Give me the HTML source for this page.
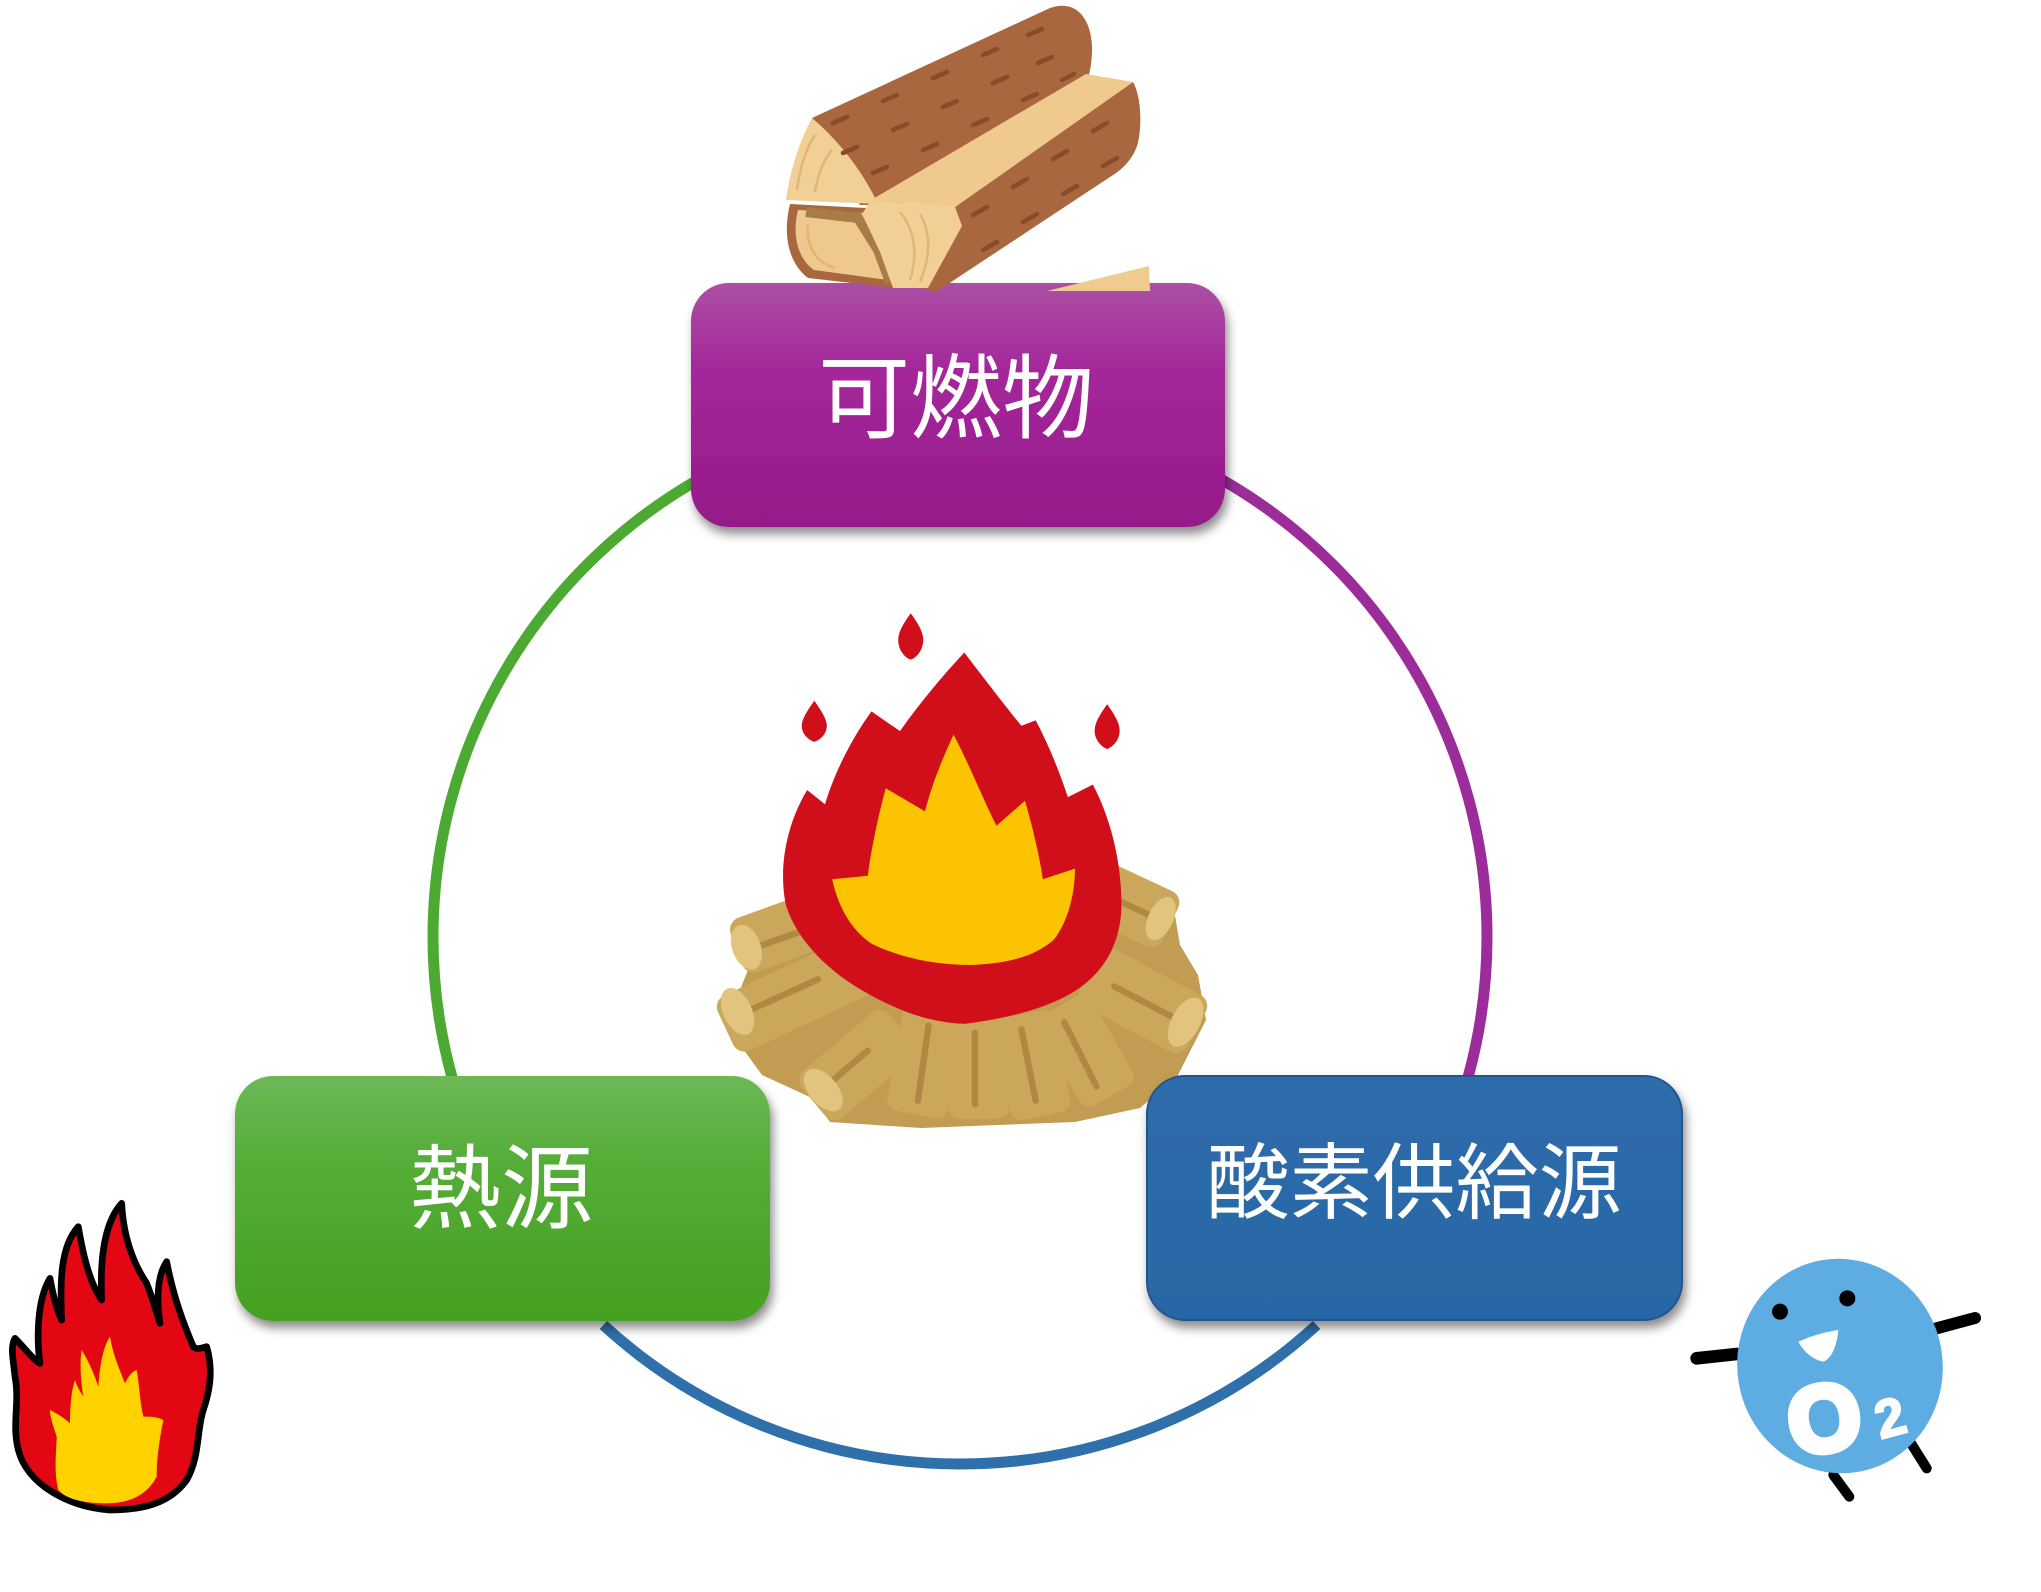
<!DOCTYPE html>
<html>
<head>
<meta charset="utf-8">
<style>
html,body{margin:0;padding:0;background:#fff;}
body{width:2041px;height:1592px;overflow:hidden;position:relative;}
svg{position:absolute;left:0;top:0;}
text{font-family:"Liberation Sans","Noto Sans CJK JP",sans-serif;}
</style>
</head>
<body>
<svg width="2041" height="1592" viewBox="0 0 2041 1592" xmlns="http://www.w3.org/2000/svg">
<defs>
  <linearGradient id="gP" x1="0" y1="0" x2="0" y2="1">
    <stop offset="0" stop-color="#ab50a3"/>
    <stop offset="0.35" stop-color="#a4289b"/>
    <stop offset="1" stop-color="#96198a"/>
  </linearGradient>
  <linearGradient id="gG" x1="0" y1="0" x2="0" y2="1">
    <stop offset="0" stop-color="#6db957"/>
    <stop offset="0.35" stop-color="#55ad38"/>
    <stop offset="1" stop-color="#45a021"/>
  </linearGradient>
  <linearGradient id="gB" x1="0" y1="0" x2="0" y2="1">
    <stop offset="0" stop-color="#2f6dac"/>
    <stop offset="1" stop-color="#2866a5"/>
  </linearGradient>
  <filter id="sh" x="-10%" y="-10%" width="120%" height="130%">
    <feDropShadow dx="3" dy="7" stdDeviation="5" flood-color="#000" flood-opacity="0.45"/>
  </filter>
</defs>

<!-- circle arcs -->
<g fill="none" stroke-width="11">
  <path d="M960,410 A527,527 0 0 0 503.6,1200.5" stroke="#4caa33"/>
  <path d="M603.4,1325 A527,527 0 0 0 1316.6,1325" stroke="#2f70ab"/>
  <path d="M1416.4,1200.5 A527,527 0 0 0 960,410" stroke="#9d2c9b"/>
</g>

<!-- campfire log mound base -->
<path fill="#c29c52" d="M740,925 L790,900 L860,905 L1100,885 L1135,878 L1172,898 L1180,945 L1198,975 L1206,1020 L1178,1075 L1140,1108 L1075,1122 L921,1128 L830,1122 L812,1098 L762,1075 L735,1038 L740,990 L752,960 Z"/>

<!-- campfire -->
<g transform="translate(700,590) scale(0.357143)">
  <g fill="#cba75c">
    <rect x="90" y="860" width="380" height="160" rx="35" transform="rotate(-20 280 940)"/>
    <rect x="50" y="1045" width="460" height="170" rx="35" transform="rotate(-25 280 1130)"/>
    <rect x="280" y="1245" width="320" height="170" rx="35" transform="rotate(-40 440 1330)"/>
    <rect x="545" y="1170" width="170" height="300" rx="30" transform="rotate(10 630 1320)"/>
    <rect x="695" y="1200" width="170" height="280" rx="30"/>
    <rect x="845" y="1185" width="170" height="290" rx="30" transform="rotate(-12 930 1330)"/>
    <rect x="995" y="1145" width="170" height="290" rx="30" transform="rotate(-30 1080 1290)"/>
    <rect x="1070" y="1060" width="340" height="180" rx="35" transform="rotate(28 1240 1150)"/>
    <rect x="1070" y="795" width="260" height="170" rx="35" transform="rotate(25 1200 880)"/>
  </g>
  <g stroke="#a9813c" stroke-width="18" stroke-linecap="round" fill="none" opacity="0.8">
    <path d="M130,1010 L300,950"/>
    <path d="M110,1190 L330,1090"/>
    <path d="M340,1400 L470,1290"/>
    <path d="M610,1430 L640,1220"/>
    <path d="M770,1440 L770,1240"/>
    <path d="M940,1430 L900,1230"/>
    <path d="M1110,1390 L1020,1210"/>
    <path d="M1350,1210 L1160,1110"/>
    <path d="M1280,920 L1150,860"/>
  </g>
  <g fill="#e3c47e">
    <ellipse cx="130" cy="1000" rx="40" ry="65" transform="rotate(-20 130 1000)"/>
    <ellipse cx="105" cy="1180" rx="40" ry="70" transform="rotate(-25 105 1180)"/>
    <ellipse cx="345" cy="1400" rx="40" ry="70" transform="rotate(-40 345 1400)"/>
    <ellipse cx="1360" cy="1210" rx="40" ry="75" transform="rotate(28 1360 1210)"/>
    <ellipse cx="1290" cy="920" rx="35" ry="65" transform="rotate(25 1290 920)"/>
  </g>
  <g fill="#d10f1b">
    <path d="M590,65 C615,100 625,120 625,140 C625,170 605,190 590,195 C575,190 555,170 555,140 C555,120 565,100 590,65 Z"/>
    <path d="M320,310 C345,345 355,365 355,380 C355,405 335,420 320,425 C305,420 285,405 285,380 C285,365 295,345 320,310 Z"/>
    <path d="M1140,320 C1165,355 1175,375 1175,395 C1175,420 1155,440 1140,445 C1125,440 1105,420 1105,395 C1105,375 1115,355 1140,320 Z"/>
    <path d="M740,175 C790,240 850,320 900,380 L940,365 C980,440 1010,520 1030,580 L1100,545 C1150,640 1180,760 1180,880 C1180,1000 1120,1090 1020,1140 C940,1180 850,1200 740,1215 C640,1210 560,1180 470,1130 C360,1070 270,980 240,880 C220,780 240,660 300,560 L350,600 C380,500 430,410 480,340 L560,395 C620,310 680,240 740,175 Z"/>
  </g>
  <path fill="#fcc400" d="M710,405 C750,480 790,580 830,660 L910,590 C930,660 950,740 960,810 L1050,780 C1050,850 1030,930 990,980 C930,1030 860,1045 760,1050 C660,1050 560,1030 480,990 C420,950 385,880 370,810 L470,800 C480,720 500,630 520,555 L630,620 C650,540 680,470 710,405 Z"/>
</g>

<!-- boxes -->
<g filter="url(#sh)">
  <rect x="691" y="283" width="534" height="244" rx="38" fill="url(#gP)"/>
  <rect x="235" y="1076" width="535" height="245" rx="38" fill="url(#gG)"/>
  <rect x="1147" y="1076" width="535" height="244" rx="38" fill="url(#gB)" stroke="#22558d" stroke-width="2"/>
</g>

<text x="956" y="431" font-size="92" fill="#fff" text-anchor="middle">可燃物</text>
<text x="501" y="1221" font-size="92" fill="#fff" text-anchor="middle">熱源</text>
<text x="1414" y="1212" font-size="83" fill="#fff" text-anchor="middle">酸素供給源</text>

<!-- top logs (real coordinates) -->
<g>
  <path fill="#a9673f" d="M812,118 L1050,8 C1078,-2 1093,22 1092,52 C1091,78 1084,92 1072,100 L900,205 L860,205 Z"/>
  <path fill="#f2cf95" d="M812,118 C800,140 790,170 786,200 L878,204 C862,170 838,140 812,118 Z"/>
  <path fill="#a9673f" d="M790,204 C783,232 787,262 808,278 L895,288 L888,252 L866,208 Z"/>
  <path fill="#eec88c" d="M798,210 C792,234 797,258 814,270 L888,280 L880,252 L862,213 Z"/>
  <path fill="none" stroke="#a77c45" stroke-width="10" d="M806,212 L858,218 L878,250 L890,282"/>
  <path fill="#a9673f" d="M955,207 L1133,82 C1142,98 1142,130 1137,146 C1132,160 1122,170 1110,177 L936,292 L922,288 L960,225 Z"/>
  <path fill="#efc98d" d="M871,200 L1086,74 L1133,82 L955,207 Z"/>
  <path fill="#f2cf95" d="M871,200 L955,207 L962,226 L928,288 L893,288 L880,252 L862,214 Z"/>
  <g fill="none" stroke="#dcb170" stroke-width="2.5" opacity="0.8">
    <path d="M797,190 C800,165 808,145 815,135"/>
    <path d="M815,192 C818,172 825,158 832,150"/>
    <path d="M900,212 C915,230 918,255 910,280"/>
    <path d="M920,214 C932,235 930,258 920,282"/>
    <path d="M808,225 C806,245 815,262 835,268"/>
  </g>
  <g stroke="#8a4a2b" stroke-width="4.5" stroke-linecap="round">
    <path d="M833,123 L847,117"/><path d="M883,101 L897,95"/><path d="M933,78 L947,72"/><path d="M983,55 L997,49"/><path d="M1028,35 L1042,29"/>
    <path d="M843,153 L857,147"/><path d="M893,130 L907,124"/><path d="M943,107 L957,101"/><path d="M993,83 L1007,77"/><path d="M1038,63 L1052,57"/>
    <path d="M873,173 L887,167"/><path d="M923,150 L937,144"/><path d="M973,125 L987,119"/><path d="M1023,100 L1037,94"/><path d="M1062,80 L1074,74"/>
    <path d="M973,215 L987,207"/><path d="M1013,187 L1027,179"/><path d="M1053,159 L1067,151"/><path d="M1093,131 L1107,123"/>
    <path d="M983,250 L997,242"/><path d="M1023,222 L1037,214"/><path d="M1063,194 L1077,186"/><path d="M1103,166 L1117,158"/>
  </g>
  <path fill="#f0cb8f" d="M1047,291 L1149,266 L1150,291 Z"/>
</g>

<!-- left flame -->
<g transform="translate(0,1190) scale(0.333333)">
  <path fill="#e30613" stroke="#000" stroke-width="20" stroke-linejoin="round" d="M330,960 C200,950 80,880 55,780 C35,700 60,640 45,560 C40,510 30,470 45,445 C80,480 100,510 120,520 C110,450 110,330 150,265 C160,320 170,360 185,390 C180,280 180,170 235,110 C250,200 270,280 305,330 C300,220 310,100 365,40 C370,140 400,220 440,280 C460,330 470,370 480,400 C470,330 470,260 500,215 C520,320 550,400 580,470 C590,480 600,475 620,470 C640,540 630,600 610,660 C590,720 600,800 560,870 C510,940 430,960 330,960 Z"/>
  <path fill="#ffd200" d="M175,900 C160,840 170,780 170,740 C160,710 150,680 150,660 C180,675 200,690 210,700 C210,640 215,600 225,570 C235,600 245,610 250,620 C240,560 240,510 245,480 C270,520 285,560 295,590 C300,520 310,470 330,440 C340,500 360,540 375,580 C385,560 395,545 410,540 C420,600 420,640 430,680 C450,680 470,680 490,690 C480,740 470,800 470,860 C440,920 380,940 320,940 C260,940 200,930 175,900 Z"/>
</g>

<!-- O2 character -->
<g transform="translate(1680,1230) scale(0.333333)">
  <g stroke="#000" stroke-linecap="round" fill="none">
    <path d="M50,385 L170,372" stroke-width="38"/>
    <path d="M770,295 L885,264" stroke-width="36"/>
    <path d="M460,735 L508,800" stroke-width="30"/>
    <path d="M690,635 L740,715" stroke-width="30"/>
  </g>
  <ellipse cx="480" cy="408" rx="308" ry="322" fill="#5dade2" transform="rotate(-10 480 408)"/>
  <circle cx="300" cy="245" r="24" fill="#000"/>
  <circle cx="502" cy="205" r="24" fill="#000"/>
  <path fill="#fff" d="M355,335 C400,315 440,305 475,300 C470,350 455,385 430,395 C400,390 370,365 355,335 Z"/>
  <text x="432" y="662" font-size="280" font-weight="bold" fill="#fff" stroke="#fff" stroke-width="22" text-anchor="middle" transform="rotate(-8 432 560)">O</text>
  <text x="630" y="618" font-size="160" font-weight="bold" fill="#fff" stroke="#fff" stroke-width="6" text-anchor="middle" transform="rotate(-15 630 560)">2</text>
</g>
</svg>
</body>
</html>
